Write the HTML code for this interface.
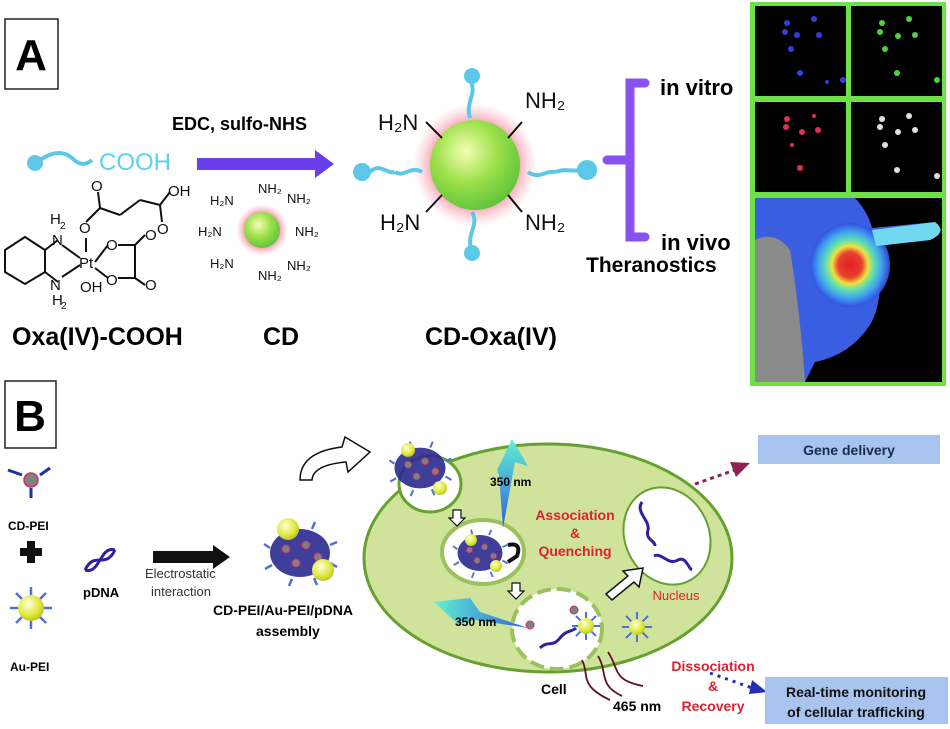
<!DOCTYPE html>
<html><head><meta charset="utf-8"><style>
html,body{margin:0;padding:0;background:#fff;overflow:hidden;}
svg{display:block;font-family:"Liberation Sans",sans-serif;}
</style></head><body>
<svg width="950" height="729" viewBox="0 0 950 729" xmlns="http://www.w3.org/2000/svg">
<defs>
<radialGradient id="gb" cx="0.4" cy="0.35" r="0.7"><stop offset="0" stop-color="#f4ffb0"/><stop offset="0.5" stop-color="#9be04a"/><stop offset="1" stop-color="#5cc23a"/></radialGradient>
<radialGradient id="halo"><stop offset="0.6" stop-color="#f06080" stop-opacity="0.8"/><stop offset="1" stop-color="#f8a0b0" stop-opacity="0"/></radialGradient>
<radialGradient id="au" cx="0.4" cy="0.35" r="0.7"><stop offset="0" stop-color="#ffffe0"/><stop offset="0.6" stop-color="#e0ea40"/><stop offset="1" stop-color="#b8c020"/></radialGradient>
<radialGradient id="hot" cx="0.5" cy="0.5" r="0.5"><stop offset="0" stop-color="#e02020"/><stop offset="0.3" stop-color="#e84030"/><stop offset="0.45" stop-color="#f0e040"/><stop offset="0.6" stop-color="#60e0b0"/><stop offset="0.8" stop-color="#40a0f0"/><stop offset="1" stop-color="#3050e0" stop-opacity="0.9"/></radialGradient>
<linearGradient id="beam" x1="0" y1="1" x2="0" y2="0"><stop offset="0" stop-color="#3060e0"/><stop offset="1" stop-color="#60f0d0"/></linearGradient>
<linearGradient id="beam2" x1="0" y1="0" x2="1" y2="0"><stop offset="0" stop-color="#60f0d0"/><stop offset="1" stop-color="#3060e0"/></linearGradient>
<g id="blob">
<g stroke="#5070e0" stroke-width="2.5" fill="none">
<path d="M-30 -5 l-6 -4 M-28 12 l-7 4 M30 -8 l7 -3 M30 10 l7 4 M-10 -24 l-2 -7 M12 -24 l3 -7 M-8 26 l-3 7 M14 25 l3 7"/></g>
<ellipse cx="0" cy="0" rx="30" ry="24" fill="#2a2a90" opacity="0.9"/>
<g fill="#808080" stroke="#d03060" stroke-width="1"><circle cx="-14" cy="-4" r="4"/><circle cx="6" cy="-8" r="4"/><circle cx="18" cy="4" r="4"/><circle cx="-4" cy="10" r="4"/></g>
</g>
</defs>

<!-- A label -->
<rect x="5" y="19" width="53" height="70" fill="#fff" stroke="#222" stroke-width="1.5"/>
<text x="31" y="70" font-size="44" font-weight="bold" text-anchor="middle">A</text>

<circle cx="35" cy="163" r="8" fill="#5cc8e8"/>
<path d="M40 160 C55 150 65 152 72 158 C80 166 86 165 92 160" stroke="#5cc8e8" stroke-width="4" fill="none"/>
<text x="99" y="170" font-size="24" fill="#5cd0f0">COOH</text>

<g stroke="#111" stroke-width="2" fill="none">
<polygon points="5,250 25,237 45,250 45,272 25,284 5,272"/>
<line x1="45" y1="250" x2="58" y2="240"/><line x1="45" y1="272" x2="58" y2="282"/>
<line x1="62" y1="245" x2="80" y2="258"/><line x1="62" y1="277" x2="80" y2="265"/>
<line x1="86" y1="238" x2="86" y2="252"/>
<line x1="86" y1="222" x2="100" y2="208"/><line x1="100" y1="208" x2="120" y2="215"/><line x1="120" y1="215" x2="140" y2="200"/><line x1="140" y1="200" x2="160" y2="205"/>
<line x1="100" y1="208" x2="98" y2="192"/><line x1="160" y1="205" x2="162" y2="222"/><line x1="160" y1="205" x2="170" y2="192"/>
<line x1="95" y1="262" x2="108" y2="245"/><line x1="95" y1="268" x2="108" y2="278"/>
<line x1="118" y1="245" x2="135" y2="245"/><line x1="118" y1="278" x2="135" y2="278"/><line x1="135" y1="245" x2="135" y2="278"/><line x1="135" y1="245" x2="145" y2="235"/><line x1="135" y1="278" x2="145" y2="285"/>
</g>
<g font-size="15" fill="#111">
<text x="50" y="224">H</text><text x="60" y="229" font-size="10">2</text><text x="52" y="245">N</text>
<text x="79" y="233">O</text>
<text x="91" y="191">O</text><text x="168" y="196">OH</text><text x="157" y="234">O</text>
<text x="79" y="268">Pt</text>
<text x="106" y="250">O</text><text x="106" y="285">O</text><text x="145" y="240">O</text><text x="145" y="290">O</text>
<text x="50" y="290">N</text><text x="52" y="305">H</text><text x="61" y="309" font-size="10">2</text>
<text x="80" y="292">OH</text>
</g>
<text x="12" y="345" font-size="25" font-weight="bold">Oxa(IV)-COOH</text>

<text x="172" y="130" font-size="18" font-weight="bold">EDC, sulfo-NHS</text>
<rect x="197" y="158" width="118" height="12" fill="#6a3ee8"/>
<polygon points="315,150 334,164 315,178" fill="#6a3ee8"/>

<circle cx="262" cy="230" r="26" fill="url(#halo)"/>
<circle cx="262" cy="230" r="18" fill="url(#gb)"/>
<g font-size="13" fill="#111">
<text x="210" y="205">H₂N</text><text x="258" y="193">NH₂</text><text x="287" y="203">NH₂</text>
<text x="198" y="236">H₂N</text><text x="295" y="236">NH₂</text>
<text x="210" y="268">H₂N</text><text x="258" y="280">NH₂</text><text x="287" y="270">NH₂</text>
</g>
<text x="263" y="345" font-size="25" font-weight="bold">CD</text>

<circle cx="475" cy="165" r="62" fill="url(#halo)"/>
<circle cx="475" cy="165" r="45" fill="url(#gb)"/>
<g stroke="#5cc8e8" stroke-width="4" fill="none">
<path d="M422 172 C410 165 405 178 395 172"/><path d="M528 172 C540 180 545 170 556 172"/>
<path d="M470 118 C465 100 478 95 470 80"/><path d="M472 212 C480 225 465 235 472 250"/>
<path d="M370 172 C380 162 388 175 395 172"/><path d="M556 172 C565 168 572 172 580 170"/>
</g>
<g fill="#5cc8e8"><circle cx="362" cy="172" r="9"/><circle cx="587" cy="170" r="10"/><circle cx="472" cy="76" r="8"/><circle cx="472" cy="253" r="8"/></g>
<g stroke="#111" stroke-width="2"><line x1="426" y1="122" x2="442" y2="138"/><line x1="522" y1="122" x2="508" y2="138"/><line x1="426" y1="212" x2="442" y2="195"/><line x1="522" y1="212" x2="508" y2="195"/></g>
<g font-size="22" fill="#111"><text x="378" y="130">H₂N</text><text x="525" y="108">NH₂</text><text x="380" y="230">H₂N</text><text x="525" y="230">NH₂</text></g>
<text x="425" y="345" font-size="25" font-weight="bold">CD-Oxa(IV)</text>

<path d="M645 83 L630 83 L630 237 L645 237 M630 160 L607 160" stroke="#8a50f0" stroke-width="9" fill="none" stroke-linecap="round"/>
<text x="660" y="95" font-size="22" font-weight="bold">in vitro</text>
<text x="661" y="250" font-size="22" font-weight="bold">in vivo</text>
<text x="586" y="272" font-size="21" font-weight="bold">Theranostics</text>

<rect x="750" y="2" width="196" height="384" fill="#6ee04a"/>
<rect x="755" y="6" width="91" height="90" fill="#000"/>
<rect x="851" y="6" width="91" height="90" fill="#000"/>
<rect x="755" y="102" width="91" height="90" fill="#000"/>
<rect x="851" y="102" width="91" height="90" fill="#000"/>
<rect x="755" y="198" width="187" height="184" fill="#000"/>
<g fill="#3040e0"><circle cx="787" cy="23" r="3"/><circle cx="814" cy="19" r="3"/><circle cx="785" cy="32" r="3"/><circle cx="797" cy="35" r="3"/><circle cx="819" cy="35" r="3"/><circle cx="791" cy="49" r="3"/><circle cx="800" cy="73" r="3"/><circle cx="827" cy="82" r="2"/><circle cx="843" cy="80" r="3"/></g>
<g fill="#50d040"><circle cx="882" cy="23" r="3"/><circle cx="909" cy="19" r="3"/><circle cx="880" cy="32" r="3"/><circle cx="898" cy="36" r="3"/><circle cx="915" cy="35" r="3"/><circle cx="885" cy="49" r="3"/><circle cx="897" cy="73" r="3"/><circle cx="937" cy="80" r="3"/></g>
<g fill="#e03050"><circle cx="787" cy="119" r="3"/><circle cx="814" cy="116" r="2"/><circle cx="786" cy="127" r="3"/><circle cx="802" cy="132" r="3"/><circle cx="818" cy="130" r="3"/><circle cx="792" cy="145" r="2"/><circle cx="800" cy="168" r="3"/></g>
<g fill="#e0e0e0"><circle cx="882" cy="119" r="3"/><circle cx="909" cy="116" r="3"/><circle cx="880" cy="127" r="3"/><circle cx="898" cy="132" r="3"/><circle cx="915" cy="130" r="3"/><circle cx="885" cy="145" r="3"/><circle cx="897" cy="170" r="3"/><circle cx="937" cy="176" r="3"/></g>
<path d="M755 198 L855 198 Q868 212 872 228 L935 222 Q948 232 930 240 L878 246 Q885 300 870 325 Q850 355 815 362 L805 382 L755 382 Z" fill="#3a5ee0"/>
<path d="M755 240 Q775 230 790 250 Q800 310 805 382 L755 382 Z" fill="#8a8a8a"/>
<ellipse cx="850" cy="265" rx="40" ry="42" fill="url(#hot)"/>
<path d="M872 230 L935 222 Q948 232 930 240 L876 246 Z" fill="#70d8f0"/>

<!-- B -->
<rect x="5" y="381" width="51" height="67" fill="#fff" stroke="#222" stroke-width="1.5"/>
<text x="30" y="431" font-size="44" font-weight="bold" text-anchor="middle">B</text>

<circle cx="31" cy="480" r="7" fill="#808080" stroke="#d03060" stroke-width="1.5"/>
<path d="M8 470 L22 475 M40 475 L50 468 M31 488 L31 498" stroke="#2030a0" stroke-width="3"/>
<text x="8" y="530" font-size="12" font-weight="bold">CD-PEI</text>
<rect x="20" y="548" width="22" height="8" fill="#111"/><rect x="27" y="541" width="8" height="22" fill="#111"/>
<g stroke="#5070e0" stroke-width="2.5"><line x1="10" y1="608" x2="52" y2="608"/><line x1="31" y1="587" x2="31" y2="629"/><line x1="16" y1="593" x2="46" y2="623"/><line x1="16" y1="623" x2="46" y2="593"/></g>
<circle cx="31" cy="608" r="13" fill="url(#au)"/>
<text x="10" y="671" font-size="12" font-weight="bold">Au-PEI</text>

<path d="M85 570 C95 550 105 570 115 550 M85 570 C100 575 100 545 115 550" stroke="#3020a0" stroke-width="3" fill="none"/>
<text x="83" y="597" font-size="13" font-weight="bold">pDNA</text>
<rect x="153" y="551" width="60" height="12" fill="#111"/><polygon points="213,545 230,557 213,569" fill="#111"/>
<text x="145" y="578" font-size="13" fill="#333">Electrostatic</text>
<text x="151" y="596" font-size="13" fill="#333">interaction</text>

<use href="#blob" transform="translate(300,553)"/>
<circle cx="288" cy="529" r="11" fill="url(#au)"/><circle cx="323" cy="570" r="11" fill="url(#au)"/>
<text x="213" y="615" font-size="14" font-weight="bold">CD-PEI/Au-PEI/pDNA</text>
<text x="256" y="636" font-size="14" font-weight="bold">assembly</text>

<path d="M300 480 Q300 452 342 447 L345 437 L370 452 L348 472 L346 462 Q313 465 312 480 Z" fill="#fff" stroke="#111" stroke-width="1.5"/>

<!-- cell -->
<ellipse cx="548" cy="558" rx="184" ry="114" fill="#cfe49a" stroke="#66a030" stroke-width="3"/>
<ellipse cx="430" cy="484" rx="31" ry="28" fill="#fff" stroke="#66a030" stroke-width="3"/>
<use href="#blob" transform="translate(420,468) scale(0.85)"/>
<circle cx="408" cy="450" r="7" fill="url(#au)"/><circle cx="440" cy="488" r="7" fill="url(#au)"/>
<ellipse cx="483" cy="552" rx="41" ry="32" fill="#fff" stroke="#9cc060" stroke-width="4"/>
<use href="#blob" transform="translate(480,553) scale(0.75)"/>
<circle cx="471" cy="540" r="6" fill="url(#au)"/><circle cx="496" cy="566" r="6" fill="url(#au)"/>
<path d="M508 545 Q522 542 517 556 L508 562" stroke="#111" stroke-width="4" fill="none"/>
<polygon points="508,474 503,478 507,482" fill="#111"/>
<ellipse cx="557" cy="629" rx="45" ry="40" fill="#fff" stroke="#9cc060" stroke-width="4" stroke-dasharray="14 6"/>
<ellipse cx="667" cy="536" rx="42" ry="50" fill="#fff" stroke="#66a030" stroke-width="2" transform="rotate(-25 667 536)"/>
<path d="M642 502 C635 512 650 520 648 530 C645 540 655 540 655 546" stroke="#3020a0" stroke-width="3" fill="none"/>
<path d="M654 556 C662 552 668 566 678 560 C686 556 688 568 692 570" stroke="#3020a0" stroke-width="3" fill="none"/>
<path d="M540 648 C548 640 552 648 560 638 C566 630 572 632 576 628" stroke="#3020a0" stroke-width="3" fill="none"/>
<g stroke="#5070e0" stroke-width="2"><path d="M572 626 l28 0 M586 612 l0 28 M576 616 l20 20 M576 636 l20 -20"/><path d="M622 627 l30 0 M637 612 l0 30 M626 616 l22 22 M626 638 l22 -22"/></g>
<circle cx="586" cy="626" r="8" fill="url(#au)"/><circle cx="637" cy="627" r="8" fill="url(#au)"/>
<circle cx="574" cy="610" r="4" fill="#808080" stroke="#d03060"/><circle cx="530" cy="625" r="4" fill="#808080" stroke="#d03060"/>
<polygon points="512,439 528,466 515,462 503,528 499,475 497,470" fill="url(#beam)"/>
<polygon points="434,602 470,598 480,612 528,628 476,620 458,624" fill="url(#beam2)"/>
<text x="490" y="486" font-size="12" font-weight="bold">350 nm</text>
<text x="455" y="626" font-size="12" font-weight="bold">350 nm</text>
<g font-size="14" font-weight="bold" fill="#e02030" text-anchor="middle">
<text x="575" y="520">Association</text><text x="575" y="538">&amp;</text><text x="575" y="556">Quenching</text></g>
<text x="676" y="600" font-size="13" fill="#e02030" text-anchor="middle">Nucleus</text>
<path d="M453 510 l8 0 l0 8 l4 0 l-8 8 l-8 -8 l4 0 Z" fill="#fff" stroke="#111" stroke-width="1.2"/>
<path d="M512 583 l8 0 l0 8 l4 0 l-8 8 l-8 -8 l4 0 Z" fill="#fff" stroke="#111" stroke-width="1.2"/>
<path d="M606 594 L628 576 L623 571 L643 568 L639 587 L634 582 L612 600 Z" fill="#fff" stroke="#111" stroke-width="1.5"/>
<g stroke="#601020" stroke-width="1.8" fill="none"><path d="M582 660 C590 675 578 685 610 700"/><path d="M598 656 C608 672 598 685 622 696"/><path d="M608 652 C620 670 612 680 643 686"/></g>
<text x="541" y="694" font-size="14" font-weight="bold">Cell</text>
<text x="613" y="711" font-size="14" font-weight="bold">465 nm</text>
<g font-size="14" font-weight="bold" fill="#e02030" text-anchor="middle">
<text x="713" y="671">Dissociation</text><text x="713" y="691">&amp;</text><text x="713" y="711">Recovery</text></g>
<line x1="710" y1="673" x2="752" y2="688" stroke="#2030b0" stroke-width="3" stroke-dasharray="3 5"/>
<polygon points="752,680 767,692 749,694" fill="#2030b0"/>
<line x1="695" y1="484" x2="735" y2="470" stroke="#902050" stroke-width="3" stroke-dasharray="4 4"/>
<polygon points="730,462 750,463 736,477" fill="#902050"/>
<rect x="758" y="435" width="182" height="29" fill="#a8c4ee"/>
<text x="849" y="455" font-size="14" font-weight="bold" fill="#1a2a50" text-anchor="middle">Gene delivery</text>
<rect x="765" y="677" width="183" height="47" fill="#a8c4ee"/>
<text x="856" y="697" font-size="14" font-weight="bold" fill="#111" text-anchor="middle">Real-time monitoring</text>
<text x="856" y="717" font-size="14" font-weight="bold" fill="#111" text-anchor="middle">of cellular trafficking</text>
</svg>
</body></html>
